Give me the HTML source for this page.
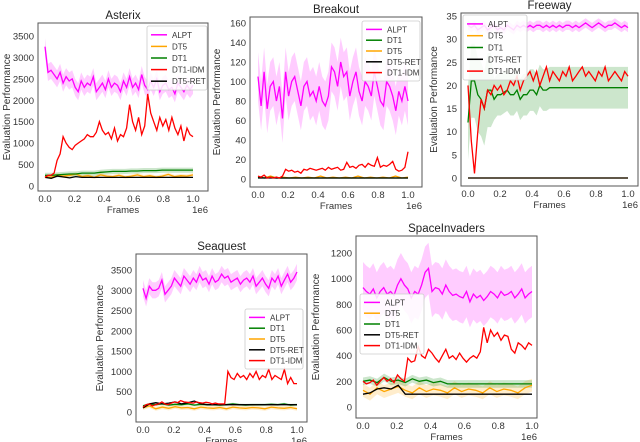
<!DOCTYPE html>
<html><head><meta charset="utf-8"><style>
html,body{margin:0;padding:0;background:#fff;}
svg{display:block;font-family:"Liberation Sans","DejaVu Sans",sans-serif;}
</style></head><body>
<svg id="fig" width="640" height="442" viewBox="0 0 640 442" xmlns="http://www.w3.org/2000/svg"></svg>
<script>
// ---------- DATA ----------
const xTicks = [0, 0.2, 0.4, 0.6, 0.8, 1.0];
const xTickLabels = ["0.0","0.2","0.4","0.6","0.8","1.0"];

const asterixYTicks = [0,500,1000,1500,2000,2500,3000,3500];
const asterixALPT = [3250,2650,2700,2600,2500,2650,2400,2550,2450,2500,2300,2200,2450,2300,2400,2350,2550,2200,2300,2400,2250,2500,2300,2400,2350,2200,2450,2300,2550,2300,2400,2250,2600,2350,2250,2450,2300,2500,2200,2350,2400,2250,2300,2150,2400,2300,2200,2350,2250,2350];
const asterixIDM = [200,250,250,300,600,750,1150,1000,900,850,950,1000,1050,1100,1200,1150,1150,1250,1500,1300,1200,1250,1100,1350,1050,1200,1150,1350,1900,1500,1300,1600,1200,1400,2150,1700,1500,1300,1600,1400,1550,1300,1600,1350,1200,1400,1050,1350,1200,1150];
const asterixDT1 = [250,250,260,270,280,280,300,300,300,320,330,340,340,340,350,350,360,360,360,370,370,370,370,370,370];
const asterixDT5 = [220,200,260,230,250,280,220,240,200,260,230,220,250,210,230,260,220,240,210,230,270,220,240,230,260];
const asterixRET = [200,180,230,210,190,220,200,200,200,200,200,200,200,200,200,200,200,200,200,200,200,200,200,200,200];

const breakoutYTicks = [0,20,40,60,80,100,120,140,160];
const breakoutALPT = [105,75,110,72,95,100,80,95,62,110,85,100,105,90,75,95,100,85,90,80,95,80,75,85,115,110,95,120,105,110,85,100,110,90,80,100,95,85,110,95,80,75,100,95,85,70,90,80,95,80];
const breakoutIDM = [3,2,4,1,2,1,2,1,3,10,8,9,7,8,6,10,9,11,10,9,10,11,9,12,10,11,12,9,10,17,12,13,11,14,15,12,16,14,13,22,12,14,13,15,18,10,8,9,12,28];
const breakoutDT1 = [2,1,2,1,1,1,1,1,1,1,1,1,1,1,1,1,1,1,1,1,1,1,1,1,1];
const breakoutDT5 = [2,1,3,1,2,1,2,1,2,1,3,1,2,1,2,1,3,1,2,1,2,1,3,1,2];
const breakoutRET = [1,1,1,1,1,1,1,1,1,1,1,1,1,1,1,1,1,1,1,1,1,1,1,1,1];

const freewayYTicks = [0,5,10,15,20,25,30,35];
const freewayALPT = [33,32.5,33,32,32.5,33,32,32.5,33,32,32.5,32,33,32.5,32,33,32.5,33,32.5,33,32.5,33,33,32.5,33,32.5,33,32.5,33,32.5,33,33,32.5,33,32.5,33,33.5,33,32.5,33,33.5,33,32.5,33,33,33.5,33,32.5,33,32.5];
const freewayDT1 = [12,21,21,18,17,15,19,19,17,18,18,18.5,19,18,18,19,17,18,18,19,19,18,20,19,19,19.5,19.5,19.5,19.5,19.5,19.5,19.5,19.5,19.5,19.5,19.5,19.5,19.5,19.5,19.5,19.5,19.5,19.5,19.5,19.5,19.5,19.5,19.5,19.5,19.5];
const freewayIDM = [20,8,1,10,17,15,19,18,20,19,20,18,19,21,20,22,19,21,22,23,21,23,20,22,24,21,23,22,21,23,22,24,21,22,23,24,22,23,22,21,23,22,24,21,22,23,22,21,23,22];
const freewayDT5 = [0,0];
const freewayRET = [0,0];

const seaquestYTicks = [0,500,1000,1500,2000,2500,3000,3500];
const seaquestALPT = [3050,2800,3100,3000,3000,3050,3250,2900,3000,3100,3300,3200,3100,3350,3250,3150,3300,3200,3400,3250,3300,3150,3350,3200,3250,3400,3300,3350,3200,3250,3300,3150,3250,3300,3200,3350,3100,3200,3300,3150,3050,3300,3200,3350,3100,3250,3400,3200,3300,3450];
const seaquestIDM = [120,180,200,150,180,200,250,200,180,220,250,230,280,250,240,230,220,250,230,220,240,230,200,220,200,200,200,1000,850,800,950,850,900,800,950,850,1000,800,900,850,1050,800,900,850,800,1050,700,850,700,700];
const seaquestDT1 = [150,200,180,200,170,190,180,200,170,190,180,180,170,180,200,180,170,180,180,180,190,180,200,170,180];
const seaquestDT5 = [100,150,80,120,90,130,100,110,80,120,100,90,110,80,120,100,90,110,100,80,120,100,90,110,80];
const seaquestRET = [100,200,230,200,220,250,200,230,270,200,180,180,180,180,180,180,180,180,180,180,180,180,180,180,180];

const spaceYTicks = [0,200,400,600,800,1000,1200];
const spaceALPT = [930,900,880,920,850,900,930,880,900,870,950,1000,950,920,850,900,880,950,1050,1080,900,930,920,880,950,900,870,880,860,850,900,820,880,850,870,830,860,900,880,850,900,870,880,900,850,880,920,850,880,900];
const spaceIDM = [200,180,190,210,170,200,230,200,220,190,250,220,200,380,350,360,470,400,380,450,420,380,350,400,450,380,400,370,420,380,350,380,400,380,430,620,500,600,550,580,520,560,550,450,420,500,480,450,500,480];
const spaceDT1 = [200,210,190,230,200,210,190,220,200,210,190,200,180,180,180,180,180,180,180,180,180,180,180,180,180];
const spaceDT5 = [130,100,150,120,140,160,130,110,150,120,140,130,110,150,120,140,130,110,150,120,140,130,110,150,170];
const spaceRET = [100,110,140,150,140,170,100,100,100,100,100,100,100,100,100,100,100,100,100,100,100,100,100,100,100];

// ---------- STYLE ----------
const COL = {ALPT:"#ff00ff", DT5:"#ffa500", DT1:"#008000", RET:"#000000", IDM:"#ff0000"};
const NS = "http://www.w3.org/2000/svg";
const fig = document.getElementById("fig");
function mk(tag, attrs, parent){
  const e = document.createElementNS(NS, tag);
  for (const k in attrs) e.setAttribute(k, attrs[k]);
  (parent||fig).appendChild(e);
  return e;
}

function plot(cfg){
  const g = mk("g", {});
  
  
  const xs = v => cfg.x0 + v*(cfg.x1-cfg.x0);
  const ys = v => cfg.y0 - (v-cfg.ymin)/(cfg.ymax-cfg.ymin)*(cfg.y0-cfg.y1);
  const ptsX = (arr,i) => xs(arr.length===1?0:i/(arr.length-1));
  // bands
  cfg.series.forEach(s=>{
    if(!s.band) return;
    let up=[],dn=[];
    s.data.forEach((v,i)=>{
      const b = typeof s.band==="function"? s.band(i,s.data.length): s.band;
      up.push(ptsX(s.data,i).toFixed(1)+","+ys(v+b).toFixed(1));
      dn.unshift(ptsX(s.data,i).toFixed(1)+","+ys(Math.max(v-b,cfg.ymin)).toFixed(1));
    });
    const p = mk("polygon",{points:up.concat(dn).join(" "),fill:COL[s.key],"fill-opacity":0.2,stroke:"none"},g);
    
    
  });
  // lines
  cfg.series.forEach(s=>{
    const pts = s.data.map((v,i)=>ptsX(s.data,i).toFixed(1)+","+ys(v).toFixed(1)).join(" ");
    const l = mk("polyline",{points:pts,fill:"none",stroke:COL[s.key],"stroke-width":1.3},g);
    
    
  });
  // frame
  const fr = mk("rect",{x:cfg.bx0,y:cfg.by0,width:cfg.bx1-cfg.bx0,height:cfg.by1-cfg.by0,fill:"none",stroke:"#555","stroke-width":1},g);
  
  
  // y ticks
  cfg.yticks.forEach(t=>{
    const tx = mk("text",{x:cfg.bx0-4,y:ys(t)+3.5,"text-anchor":"end","font-size":9.5,fill:"#333"},g);
    tx.textContent = t;
    
    
  });
  xTicks.forEach((t,i)=>{
    const tx = mk("text",{x:xs(t),y:cfg.by1+11,"text-anchor":"middle","font-size":9.5,fill:"#333"},g);
    tx.textContent = xTickLabels[i];
    
    
  });
  const fl = mk("text",{x:(cfg.bx0+cfg.bx1)/2,y:cfg.by1+22,"text-anchor":"middle","font-size":9.5,fill:"#333"},g);
  fl.textContent="Frames";
  
  
  const e6 = mk("text",{x:cfg.bx1,y:cfg.by1+22,"text-anchor":"end","font-size":9.5,fill:"#333"},g);
  e6.textContent="1e6";
  
  
  const yt = mk("text",{x:0,y:0,"text-anchor":"middle","font-size":10,fill:"#333",transform:`translate(${cfg.ylabX},${(cfg.by0+cfg.by1)/2}) rotate(-90)`},g);
  yt.textContent="Evaluation Performance";
  
  
  const ti = mk("text",{x:(cfg.bx0+cfg.bx1)/2,y:cfg.by0-4,"text-anchor":"middle","font-size":11.5,fill:"#222"},g);
  ti.textContent=cfg.title;
  
  
  // legend
  const L = cfg.legend;
  const lg = mk("g",{},g);
  
  
  mk("rect",{x:L.x,y:L.y,width:L.w,height:L.h,fill:"#fff","fill-opacity":0.85,stroke:"#ccc","stroke-width":0.8,rx:2},lg);
  const step = (L.h-6)/L.items.length;
  L.items.forEach((it,i)=>{
    const yy = L.y+3+step*(i+0.5);
    const ln = mk("line",{x1:L.x+4,x2:L.x+20,y1:yy,y2:yy,stroke:COL[it[0]],"stroke-width":1.5},lg);
    
    
    const tx = mk("text",{x:L.x+25,y:yy+3,"font-size":8,fill:"#333"},lg);
    tx.textContent = it[1];
    
    
  });
}

plot({id:"asterix",title:"Asterix",bx0:38,bx1:208,by0:23,by1:191,x0:45,x1:193,y0:186,y1:36,ymin:0,ymax:3500,ylabX:10,
  yticks:asterixYTicks,
  series:[{key:"ALPT",data:asterixALPT,band:200},{key:"DT5",data:asterixDT5,band:40},{key:"DT1",data:asterixDT1,band:60},{key:"RET",data:asterixRET},{key:"IDM",data:asterixIDM}],
  legend:{x:147,y:26,w:60,h:64,items:[["ALPT","ALPT"],["DT5","DT5"],["DT1","DT1"],["IDM","DT1-IDM"],["RET","DT5-RET"]]}});

plot({id:"breakout",title:"Breakout",bx0:250,bx1:422,by0:17,by1:187,x0:258,x1:408,y0:179,y1:23,ymin:0,ymax:160,ylabX:220,
  yticks:breakoutYTicks,
  series:[{key:"ALPT",data:breakoutALPT,band:25},{key:"DT5",data:breakoutDT5},{key:"DT1",data:breakoutDT1},{key:"RET",data:breakoutRET},{key:"IDM",data:breakoutIDM}],
  legend:{x:362,y:21,w:58,h:60,items:[["ALPT","ALPT"],["DT1","DT1"],["DT5","DT5"],["RET","DT5-RET"],["IDM","DT1-IDM"]]}});

plot({id:"freeway",title:"Freeway",bx0:461,bx1:638,by0:13,by1:186,x0:468,x1:628,y0:178,y1:16,ymin:0,ymax:35,ylabX:437,
  yticks:freewayYTicks,
  series:[{key:"ALPT",data:freewayALPT,band:1},{key:"DT1",data:freewayDT1,band:(i,n)=> i<8?8:4.5},{key:"DT5",data:freewayDT5},{key:"RET",data:freewayRET},{key:"IDM",data:freewayIDM}],
  legend:{x:463,y:15,w:64,h:65,items:[["ALPT","ALPT"],["DT5","DT5"],["DT1","DT1"],["RET","DT5-RET"],["IDM","DT1-IDM"]]}});

plot({id:"seaquest",title:"Seaquest",bx0:136,bx1:307,by0:254,by1:422,x0:143,x1:297,y0:412,y1:270,ymin:0,ymax:3500,ylabX:103,
  yticks:seaquestYTicks,
  series:[{key:"ALPT",data:seaquestALPT,band:200},{key:"DT5",data:seaquestDT5,band:50},{key:"DT1",data:seaquestDT1,band:30},{key:"RET",data:seaquestRET},{key:"IDM",data:seaquestIDM}],
  legend:{x:245,y:309,w:58,h:60,items:[["ALPT","ALPT"],["DT1","DT1"],["DT5","DT5"],["RET","DT5-RET"],["IDM","DT1-IDM"]]}});

plot({id:"spaceinvaders",title:"SpaceInvaders",bx0:356,bx1:537,by0:236,by1:418,x0:363,x1:532,y0:407,y1:253,ymin:0,ymax:1200,ylabX:319,
  yticks:spaceYTicks,
  series:[{key:"ALPT",data:spaceALPT,band:200},{key:"DT5",data:spaceDT5,band:50},{key:"DT1",data:spaceDT1,band:30},{key:"RET",data:spaceRET},{key:"IDM",data:spaceIDM}],
  legend:{x:360,y:294,w:64,h:60,items:[["ALPT","ALPT"],["DT5","DT5"],["DT1","DT1"],["RET","DT5-RET"],["IDM","DT1-IDM"]]}});
</script>
</body></html>
